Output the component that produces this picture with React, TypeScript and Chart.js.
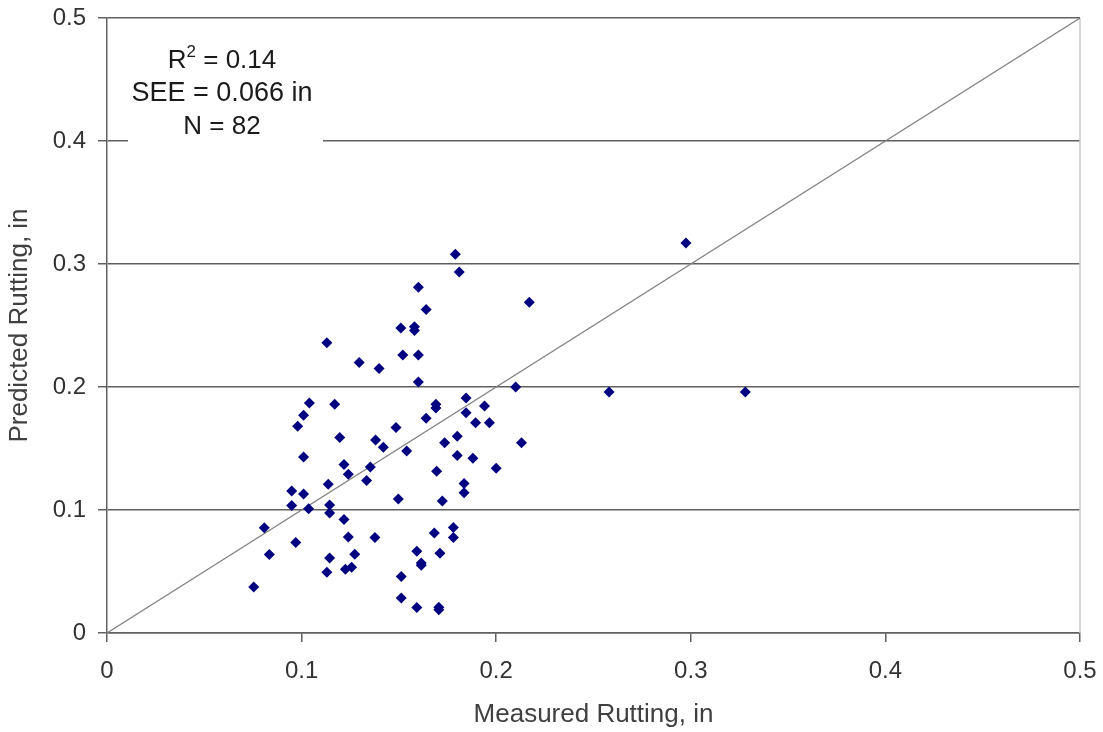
import { useEffect, useRef } from "react";
import { Chart, registerables } from "chart.js";

Chart.register(...registerables);

const measured = [
  0.2975, 0.179, 0.181, 0.16, 0.217, 0.164, 0.113, 0.151, 0.158, 0.158,
  0.1296, 0.1398, 0.152, 0.16, 0.16, 0.21, 0.258, 0.328, 0.104, 0.117,
  0.1845, 0.169, 0.169, 0.194, 0.101, 0.1845, 0.164, 0.1894, 0.1965, 0.098,
  0.1485, 0.1196, 0.138, 0.18, 0.1735, 0.213, 0.142, 0.154, 0.101, 0.18,
  0.188, 0.1218, 0.1353, 0.1694, 0.2, 0.124, 0.1334, 0.1137, 0.1835, 0.0949,
  0.101, 0.1835, 0.1497, 0.1723, 0.0949, 0.1036, 0.1144, 0.1144, 0.1218, 0.0808,
  0.178, 0.1682, 0.124, 0.1377, 0.178, 0.097, 0.0834, 0.1273, 0.1144, 0.1592,
  0.1711, 0.1225, 0.1257, 0.113, 0.1615, 0.1615, 0.0754, 0.1512, 0.1512, 0.1592,
  0.1705, 0.1705,
];
const predicted = [
  0.317, 0.308, 0.2935, 0.281, 0.269, 0.263, 0.236, 0.248, 0.249, 0.246,
  0.22, 0.215, 0.226, 0.226, 0.204, 0.2, 0.196, 0.196, 0.187, 0.186,
  0.191, 0.186, 0.183, 0.1845, 0.177, 0.179, 0.1745, 0.171, 0.171, 0.168,
  0.167, 0.159, 0.157, 0.16, 0.1546, 0.1546, 0.151, 0.148, 0.143, 0.1443,
  0.142, 0.137, 0.135, 0.1316, 0.134, 0.129, 0.124, 0.121, 0.1216, 0.1155,
  0.113, 0.114, 0.109, 0.1074, 0.1037, 0.101, 0.104, 0.0976, 0.0922, 0.0855,
  0.0858, 0.0814, 0.078, 0.0776, 0.0776, 0.0735, 0.0638, 0.064, 0.061, 0.0665,
  0.0648, 0.0518, 0.0535, 0.0494, 0.057, 0.055, 0.0374, 0.0459, 0.0285, 0.0207,
  0.021, 0.019,
];
const equalityLine = [0, 0.5];
const tickValues = [0, 0.1, 0.2, 0.3, 0.4, 0.5];
const tickLabels = ["0", "0.1", "0.2", "0.3", "0.4", "0.5"];
const xTitle = "Measured Rutting, in";
const yTitle = "Predicted Rutting, in";
const rSquared = "0.14";
const seeText = "SEE = 0.066 in";
const nText = "N = 82";

const FONT = "'Liberation Sans', Arial, sans-serif";

const annotationPlugin = {
  id: "annotationBox",
  beforeDatasetsDraw(chart: any) {
    const { ctx, chartArea } = chart;
    ctx.save();
    ctx.strokeStyle = "#c8c8c8";
    ctx.lineWidth = 1.5;
    ctx.beginPath();
    ctx.moveTo(chartArea.right, chartArea.top);
    ctx.lineTo(chartArea.right, chartArea.bottom);
    ctx.stroke();
    // white box behind statistics
    ctx.fillStyle = "#ffffff";
    ctx.fillRect(128, 26, 195, 124);
    ctx.restore();
  },
  afterDraw(chart: any) {
    const { ctx } = chart;
    ctx.save();
    ctx.fillStyle = "#1a1a1a";
    ctx.textBaseline = "alphabetic";
    const cx = 222;
    const rPart = "R";
    const restPart = " = " + rSquared;
    ctx.font = `26px ${FONT}`;
    const wR = ctx.measureText(rPart).width;
    const wRest = ctx.measureText(restPart).width;
    ctx.font = `17px ${FONT}`;
    const wSup = ctx.measureText("2").width;
    const total = wR + wSup + wRest;
    const x = cx - total / 2;
    ctx.textAlign = "left";
    ctx.font = `26px ${FONT}`;
    ctx.fillText(rPart, x, 68);
    ctx.font = `17px ${FONT}`;
    ctx.fillText("2", x + wR, 57);
    ctx.font = `26px ${FONT}`;
    ctx.fillText(restPart, x + wR + wSup, 68);
    ctx.textAlign = "center";
    ctx.font = `27px ${FONT}`;
    ctx.fillText(seeText, cx, 101);
    ctx.font = `26px ${FONT}`;
    ctx.fillText(nText, cx, 134);
    ctx.restore();
  },
};

export default function App() {
  const canvasRef = useRef<HTMLCanvasElement | null>(null);

  useEffect(() => {
    if (!canvasRef.current) return;
    const points = measured.map((m, i) => ({ x: m, y: predicted[i] }));
    const line = equalityLine.map((v) => ({ x: v, y: v }));
    const chart = new Chart(canvasRef.current, {
      type: "scatter",
      data: {
        datasets: [
          {
            label: "1:1",
            data: line,
            showLine: true,
            borderColor: "#808080",
            borderWidth: 1.2,
            pointRadius: 0,
            order: 2,
          } as any,
          {
            label: "Rutting",
            data: points,
            pointStyle: "rectRot",
            pointRadius: 5.5,
            backgroundColor: "#000080",
            borderColor: "#000080",
            borderWidth: 0,
            order: 1,
          } as any,
        ],
      },
      options: {
        responsive: false,
        animation: false,
        layout: { padding: { left: 0, top: 18, right: 23, bottom: 0 } },
        plugins: {
          legend: { display: false },
          tooltip: { enabled: false },
        },
        scales: {
          x: {
            type: "linear",
            min: 0,
            max: 0.5,
            afterBuildTicks(scale: any) {
              scale.ticks = tickValues.map((v) => ({ value: v }));
            },
            afterFit(scale: any) {
              scale.height = 99;
              scale.paddingLeft = 0;
              scale.paddingRight = 0;
            },
            ticks: {
              callback: (_v: any, i: number) => tickLabels[i],
              color: "#333333",
              font: { family: FONT, size: 24 },
              padding: 15,
              maxRotation: 0,
            },
            grid: {
              drawOnChartArea: false,
              drawTicks: true,
              tickLength: 9,
              color: "#606060",
              lineWidth: 1.5,
            },
            border: { color: "#606060", width: 1.5 },
            title: {
              display: true,
              text: xTitle,
              color: "#404040",
              font: { family: FONT, size: 26 },
              padding: { top: 0, bottom: 2 },
            },
          },
          y: {
            type: "linear",
            min: 0,
            max: 0.5,
            afterBuildTicks(scale: any) {
              scale.ticks = tickValues.map((v) => ({ value: v }));
            },
            afterFit(scale: any) {
              scale.width = 107;
              scale.paddingTop = 0;
              scale.paddingBottom = 0;
            },
            ticks: {
              callback: (_v: any, i: number) => tickLabels[i],
              color: "#333333",
              font: { family: FONT, size: 24 },
              padding: 12,
            },
            grid: {
              drawTicks: true,
              tickLength: 9,
              color: "#606060",
              lineWidth: 1.5,
            },
            border: { color: "#606060", width: 1.5 },
            title: {
              display: true,
              text: yTitle,
              color: "#404040",
              font: { family: FONT, size: 26 },
              padding: { top: 4, bottom: 0 },
            },
          },
        },
      },
      plugins: [annotationPlugin],
    });
    return () => chart.destroy();
  }, []);

  return (
    <div style={{ position: "fixed", left: 0, top: 0, width: 1103, height: 732, background: "#ffffff" }}>
      <canvas ref={canvasRef} width={1103} height={732} style={{ display: "block" }} />
    </div>
  );
}
